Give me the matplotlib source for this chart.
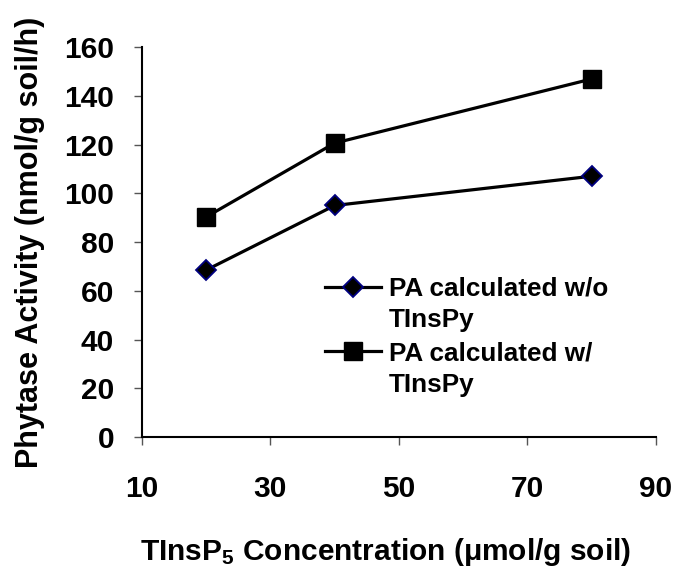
import matplotlib
matplotlib.use("Agg")
import matplotlib.pyplot as plt

plt.rcParams['font.family'] = ['Liberation Sans', 'DejaVu Sans']
plt.rcParams['font.weight'] = 'bold'
plt.rcParams['mathtext.fontset'] = 'custom'
plt.rcParams['mathtext.bf'] = 'Liberation Sans:bold'
plt.rcParams['mathtext.rm'] = 'Liberation Sans:bold'
plt.rcParams['mathtext.default'] = 'bf'

conc = [20, 40, 80]
pa_without = [68.5, 95, 107]
pa_with = [90.3, 120.6, 146.9]
labels = ["PA calculated w/o", "PA calculated w/"]
label_tail = "TInsPy"

fig = plt.figure(figsize=(6.78, 5.73), dpi=100)
ax = fig.add_axes([0.2094, 0.2373, 0.758, 0.6806])

ax.plot(conc, pa_without, color='black', lw=2.3, marker='D', ms=10.5,
        markerfacecolor='black', markeredgecolor='#000080', markeredgewidth=1.3,
        label=labels[0])
ax.plot(conc, pa_with, color='black', lw=2.3, marker='s', ms=13,
        markerfacecolor='black', markeredgecolor='black', label=labels[1])

ax.set_xlim(10, 90)
ax.set_ylim(0, 160)
ax.set_xticks([10, 30, 50, 70, 90])
ax.set_yticks(range(0, 161, 20))
ax.spines['top'].set_visible(False)
ax.spines['right'].set_visible(False)
ax.spines['left'].set_linewidth(1.5)
ax.spines['bottom'].set_linewidth(1.5)
ax.tick_params(direction='out', length=6, width=1, color='#555555', labelsize=21.5)
ax.tick_params(axis='x', pad=21)
ax.tick_params(axis='y', pad=14)
for t in ax.get_xticklabels() + ax.get_yticklabels():
    t.set_fontweight('bold')

ax.set_xlabel("TInsP$_5$ Concentration (μmol/g soil)", fontsize=21.5,
              fontweight='bold')
ax.set_ylabel("Phytase Activity (nmol/g soil/h)", fontsize=22,
              fontweight='bold')
ax.xaxis.set_label_coords(0.474, -0.254)
ax.yaxis.set_label_coords(-0.189, 0.5)

leg = ax.legend(loc='center left', bbox_to_anchor=(0.31, 0.297), frameon=False,
                prop={'size': 18.8, 'weight': 'bold'}, handlelength=2.15,
                handletextpad=0.3, labelspacing=1.55)
# second line of each legend label, aligned under the first
# (drawn after the legend so the legend texts already have their positions)
for t in leg.get_texts():
    ax.annotate(label_tail, xy=(0, 0), xycoords=t, xytext=(0, -19),
                textcoords='offset points', va='baseline', ha='left',
                fontsize=18.8, fontweight='bold', zorder=10)

fig.savefig("out.png", dpi=100)
